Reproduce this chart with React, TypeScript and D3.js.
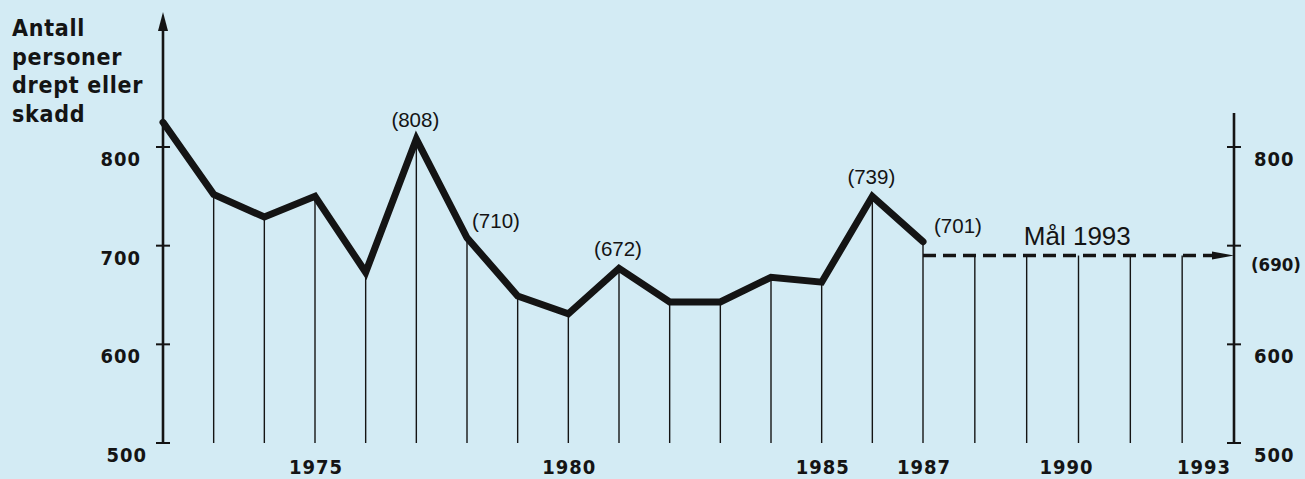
import React from "react";
import * as d3 from "d3";

const years = [1972, 1973, 1974, 1975, 1976, 1977, 1978, 1979, 1980, 1981, 1982, 1983, 1984, 1985, 1986, 1987];
const values = [825, 752, 729, 750, 673, 808, 708, 649, 631, 677, 643, 643, 668, 663, 750, 704];
const goalStartYear = 1987;
const goalYear = 1993;
const goalValue = 690;
const goalYears = [1988, 1989, 1990, 1991, 1992];
const yTicks = [500, 600, 700, 800];
const rightTickLabels = ["500", "600", "(690)", "800"];
const xTickLabels = [1975, 1980, 1985, 1987, 1990, 1993];
const annotations = [
  { year: 1977, text: "(808)" },
  { year: 1978, text: "(710)" },
  { year: 1981, text: "(672)" },
  { year: 1986, text: "(739)" },
  { year: 1987, text: "(701)" },
];
const titleLines = ["Antall", "personer", "drept eller", "skadd"];
const goalText = "Mål 1993";

const W = 1305;
const H = 479;
const INK = "#141414";
const BG = "#d3ebf4";
const condFont = "'DejaVu Sans', sans-serif";
const helv = "'Liberation Sans', Arial, sans-serif";

export default function App() {
  const x = d3.scaleLinear().domain([1972, 1987, 1993]).range([163, 923, 1234]);
  const y = d3.scaleLinear().domain([500, 800]).range([443, 147]);
  const bottom = y(500);
  const leftX = x(1972);
  const rightX = x(goalYear);

  const line = d3
    .line<number>()
    .x((_, i) => x(years[i]))
    .y((d) => y(d));

  const gy = y(goalValue);

  const annPos = (year: number) => {
    const i = years.indexOf(year);
    const px = x(year);
    const py = y(values[i]);
    if (year === 1978) return { x: px + 5, y: py - 10, anchor: "start" };
    if (year === 1987) return { x: px + 11, y: py - 9, anchor: "start" };
    return { x: px - 1, y: py - 12, anchor: "middle" };
  };

  const yearLabelPos = (yr: number) => {
    if (yr === 1993) return { x: x(yr) - 3, anchor: "end" };
    if (yr === 1990) return { x: x(yr) - 12, anchor: "middle" };
    return { x: x(yr) + 1, anchor: "middle" };
  };

  const condStyle: React.CSSProperties = { fontStretch: "condensed" };

  return (
    <svg
      width={W}
      height={H}
      style={{ position: "absolute", left: 0, top: 0, display: "block" }}
    >
      <rect x={0} y={0} width={W} height={H} fill={BG} />

      {/* title */}
      {titleLines.map((t, i) => (
        <text
          key={t}
          x={12}
          y={36 + i * 28.5}
          fontFamily={condFont}
          fontWeight="bold"
          fontSize={23}
          fill={INK}
          letterSpacing={0.7}
          style={{ whiteSpace: "pre", fontStretch: "condensed" }}
        >
          {t}
        </text>
      ))}

      {/* drop lines for data */}
      {years.slice(1).map((yr, i) => (
        <line
          key={"d" + yr}
          x1={x(yr)}
          x2={x(yr)}
          y1={y(values[i + 1])}
          y2={bottom}
          stroke={INK}
          strokeWidth={1.4}
        />
      ))}
      {/* drop lines for goal */}
      {goalYears.map((yr) => (
        <line
          key={"g" + yr}
          x1={x(yr)}
          x2={x(yr)}
          y1={gy}
          y2={bottom}
          stroke={INK}
          strokeWidth={1.4}
        />
      ))}

      {/* left axis */}
      <line x1={leftX} x2={leftX} y1={28} y2={bottom} stroke={INK} strokeWidth={2.6} />
      <path d={`M${leftX},12 L${leftX - 5},31 L${leftX + 5},31 Z`} fill={INK} />
      {yTicks.map((v) => (
        <g key={"lt" + v}>
          <line x1={leftX - 7} x2={leftX + 7} y1={y(v)} y2={y(v)} stroke={INK} strokeWidth={2} />
          <text
            x={v === 500 ? 147 : 141}
            y={y(v) + 19}
            textAnchor="end"
            fontFamily={condFont}
            fontWeight="bold"
            fontSize={20}
            fill={INK}
            letterSpacing={1}
            style={condStyle}
          >
            {v}
          </text>
        </g>
      ))}

      {/* right axis */}
      <line x1={rightX} x2={rightX} y1={113} y2={bottom} stroke={INK} strokeWidth={2.6} />
      {yTicks.map((v, i) => (
        <g key={"rt" + v}>
          <line x1={rightX - 7} x2={rightX + 7} y1={y(v)} y2={y(v)} stroke={INK} strokeWidth={2} />
          <text
            x={rightX + (v === 700 ? 17 : 20)}
            y={v === 700 ? gy + 15 : y(v) + 19}
            fontFamily={condFont}
            fontWeight="bold"
            fontSize={v === 700 ? 18.5 : 20}
            fill={INK}
            letterSpacing={v === 700 ? 0 : 1}
            style={condStyle}
          >
            {rightTickLabels[i]}
          </text>
        </g>
      ))}

      {/* year labels */}
      {xTickLabels.map((yr) => {
        const p = yearLabelPos(yr);
        return (
          <text
            key={"x" + yr}
            x={p.x}
            y={474}
            textAnchor={p.anchor as any}
            fontFamily={condFont}
            fontWeight="bold"
            fontSize={20}
            fill={INK}
            letterSpacing={1}
            style={condStyle}
          >
            {yr}
          </text>
        );
      })}

      {/* goal dashed line */}
      <line
        x1={x(goalStartYear)}
        x2={rightX - 14}
        y1={gy}
        y2={gy}
        stroke={INK}
        strokeWidth={3.6}
        strokeDasharray="13,7"
      />
      <path
        d={`M${rightX},${gy} L${rightX - 22},${gy - 4} L${rightX - 22},${gy + 4} Z`}
        fill={INK}
      />

      {/* main line */}
      <path
        d={line(values) || ""}
        fill="none"
        stroke={INK}
        strokeWidth={7}
        strokeLinejoin="miter"
        strokeMiterlimit={6}
        strokeLinecap="round"
      />

      {/* annotations */}
      {annotations.map((a) => {
        const p = annPos(a.year);
        return (
          <text
            key={"a" + a.year}
            x={p.x}
            y={p.y}
            textAnchor={p.anchor as any}
            fontFamily={helv}
            fontSize={20.5}
            fill={INK}
          >
            {a.text}
          </text>
        );
      })}
      <text x={x(1988) + 49} y={gy - 11} fontFamily={helv} fontSize={26} fill={INK}>
        {goalText}
      </text>
    </svg>
  );
}
